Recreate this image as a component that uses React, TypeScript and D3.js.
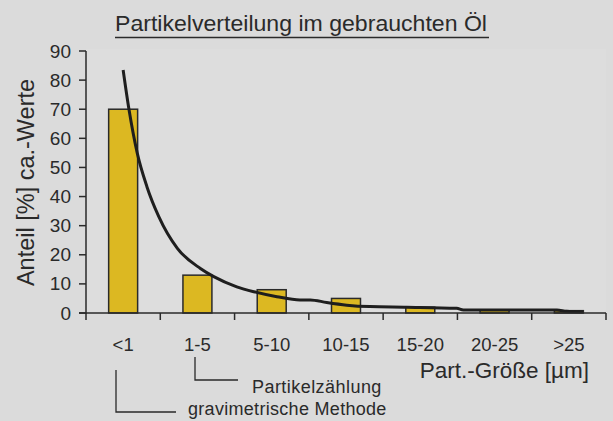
import React from "react";
import * as d3 from "d3";

const categories = ["<1", "1-5", "5-10", "10-15", "15-20", "20-25", ">25"];
const barValues = [70, 13, 8, 5, 2, 1, 0.8];
const yTicks = [0, 10, 20, 30, 40, 50, 60, 70, 80, 90];
// curve: position along the category axis (0 = centre of "<1") and value
const curvePos = [0, 0.08, 0.19, 0.32, 0.48, 0.73, 1.04, 1.22, 1.53, 1.76, 2.07, 2.38, 2.52, 2.74, 3.01, 3.32, 3.82, 4.49, 4.58, 5.84, 5.97, 6.19];
const curveVal = [83.5, 69.7, 54.9, 43.4, 33.1, 22.2, 15.3, 12.5, 9.0, 7.3, 5.6, 4.5, 4.5, 3.6, 2.7, 2.2, 2.0, 1.6, 1.0, 1.0, 0.6, 0.45];

const title = "Partikelverteilung im gebrauchten Öl";
const yLabel = "Anteil [%] ca.-Werte";
const xLabel = "Part.-Größe [µm]";
const note1 = "Partikelzählung";
const note2 = "gravimetrische Methode";

export default function App() {
  const W = 613, H = 421;
  const left = 86, right = 606, top = 51, bottom = 313;
  const font = "'Liberation Sans', Arial, sans-serif";
  const dark = "#2a2a2a";

  const x = d3.scaleBand<string>().domain(categories).range([left, right]).paddingInner(0.61).paddingOuter(0.305);
  const step = x.step();
  const xPos = d3.scaleLinear().domain([-0.5, categories.length - 0.5]).range([left, right]);
  const y = d3.scaleLinear().domain([0, 90]).range([bottom, top]);

  const line = d3.line<number>()
    .x((_, i) => xPos(curvePos[i]))
    .y((d) => y(d))
    .curve(d3.curveMonotoneX);

  const boundaries = d3.range(categories.length + 1).map((i) => left + i * step);

  return (
    <div style={{ position: "fixed", left: 0, top: 0, width: W, height: H }}>
      <svg width={W} height={H} style={{ display: "block", background: "#dbdbdb" }} fontFamily={font}>
        <rect x={left} y={top - 2} width={right - left} height={bottom - top + 2} fill="#dddddd" />
        {/* title */}
        <text x={115} y={31} fontSize={21.5} textLength={372} lengthAdjust="spacingAndGlyphs" fill={dark}>{title}</text>
        <line x1={115} x2={489} y1={37.5} y2={37.5} stroke={dark} strokeWidth={1.6} />

        {/* bars */}
        {categories.map((c, i) => (
          <rect key={c} x={x(c)} y={y(barValues[i])} width={x.bandwidth()} height={bottom - y(barValues[i])}
            fill="#dcb822" stroke={dark} strokeWidth={1.5} />
        ))}

        {/* curve */}
        <path d={line(curveVal) || ""} fill="none" stroke="#1e1e1e" strokeWidth={3} strokeLinejoin="round" />

        {/* y axis */}
        <line x1={left} x2={left} y1={top} y2={bottom + 1} stroke={dark} strokeWidth={1.5} />
        {yTicks.map((t) => (
          <g key={t}>
            <line x1={left - 7} x2={left} y1={y(t)} y2={y(t)} stroke={dark} strokeWidth={1.5} />
            <text x={71} y={y(t) + 6.5} textAnchor="end" fontSize={19} fill={dark}>{t}</text>
          </g>
        ))}

        {/* x axis */}
        <line x1={left - 7} x2={right} y1={bottom} y2={bottom} stroke={dark} strokeWidth={1.5} />
        {boundaries.map((b, i) => (
          <line key={i} x1={b} x2={b} y1={bottom} y2={bottom + 7} stroke={dark} strokeWidth={1.5} />
        ))}
        {categories.map((c) => (
          <text key={c} x={(x(c) as number) + x.bandwidth() / 2} y={350.5} textAnchor="middle" fontSize={18.5} fill={dark}>{c}</text>
        ))}

        {/* axis titles */}
        <text transform={`translate(34,182.5) rotate(-90)`} textAnchor="middle" fontSize={23.5} fill={dark}>{yLabel}</text>
        <text x={589} y={378} textAnchor="end" fontSize={22.5} fill={dark}>{xLabel}</text>

        {/* annotations */}
        <path d="M195,357 V380 H238" fill="none" stroke={dark} strokeWidth={1.3} />
        <text x={252} y={393} fontSize={18} letterSpacing={0.45} fill={dark}>{note1}</text>
        <path d="M116,370 V412 H176" fill="none" stroke={dark} strokeWidth={1.3} />
        <text x={188} y={414.5} fontSize={18} letterSpacing={0.3} fill={dark}>{note2}</text>
      </svg>
    </div>
  );
}
